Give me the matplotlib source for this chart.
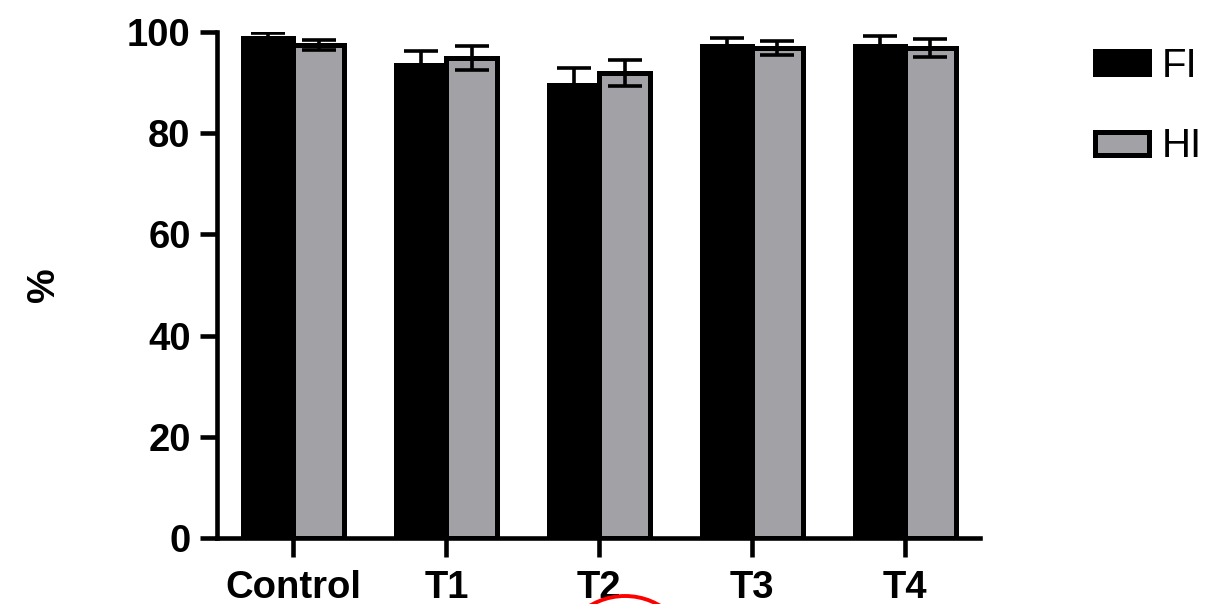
import matplotlib
matplotlib.use('Agg')
import numpy as np
import matplotlib.pyplot as plt
from matplotlib.patches import Circle

groups = ['Control', 'T1', 'T2', 'T3', 'T4']
fi_mean = [98.9, 93.5, 89.5, 97.2, 97.2]
fi_err = [0.9, 2.8, 3.3, 1.6, 2.1]
hi_mean = [97.4, 94.9, 91.9, 96.8, 96.8]
hi_err = [1.0, 2.4, 2.6, 1.4, 1.8]
yticks = [0, 20, 40, 60, 80, 100]

plt.rcParams['font.family'] = ['Liberation Sans', 'DejaVu Sans']

fig = plt.figure(figsize=(12.22, 6.04), dpi=100)
ax = fig.add_axes([0.1776, 0.1093, 0.8020 - 0.1776, 0.947 - 0.1093])

x = np.arange(len(groups))
w = 0.33
lw = 3.6

ax.bar(x - w / 2, fi_mean, w, color='black', edgecolor='black',
       linewidth=lw, label='FI', zorder=2)
ax.bar(x + w / 2, hi_mean, w, color='#a2a2a6', edgecolor='black',
       linewidth=lw, label='HI', zorder=2)
ax.errorbar(x - w / 2, fi_mean, yerr=fi_err, fmt='none', ecolor='black',
            elinewidth=2.6, capsize=12, capthick=2.6, zorder=3)
ax.errorbar(x + w / 2, hi_mean, yerr=hi_err, fmt='none', ecolor='black',
            elinewidth=2.6, capsize=12, capthick=2.6, zorder=3)

ax.set_xlim(-0.5, 4.49)
ax.set_ylim(0, 100)
ax.set_yticks(yticks)
ax.set_xticks(x)
ax.set_xticklabels(groups)

for side in ['top', 'right']:
    ax.spines[side].set_visible(False)
for side in ['left', 'bottom']:
    ax.spines[side].set_linewidth(3.3)

ax.tick_params(axis='y', length=12, width=3.3, pad=7, labelsize=27.5)
ax.tick_params(axis='x', length=14, width=3.3, pad=9, labelsize=27.5)
for lab in ax.get_xticklabels() + ax.get_yticklabels():
    lab.set_fontweight('bold')

ax.set_ylabel('%', fontsize=28, fontweight='bold', labelpad=47)

ax.legend(loc='upper left', bbox_to_anchor=(0.896, 0.922),
          bbox_transform=fig.transFigure, frameon=False, fontsize=29,
          handlelength=1.35, handleheight=0.5, handletextpad=0.3,
          labelspacing=1.05, borderpad=0, borderaxespad=0)

# red circle mark at the bottom edge
ring = Circle((6.25, -0.6), 0.68, transform=fig.dpi_scale_trans,
              fill=False, edgecolor='red', linewidth=2.8, clip_on=False)
fig.patches.append(ring)

fig.savefig('out.png', dpi=100)
